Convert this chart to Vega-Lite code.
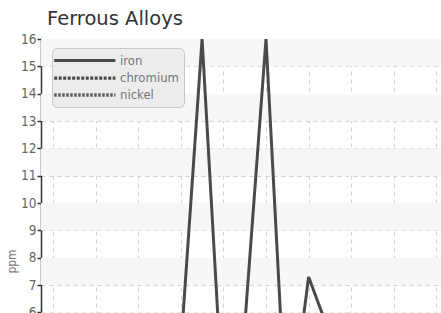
{
  "$schema": "https://vega.github.io/schema/vega-lite/v6.json",
  "autosize": {"type": "none"},
  "padding": {"left": 41, "top": 39, "right": 0, "bottom": 0},
  "width": 400,
  "height": 274,
  "background": "white",
  "title": {"text": "Ferrous Alloys", "anchor": "start", "frame": "group", "dx": 6, "offset": 3, "fontSize": 19.5, "font": "DejaVu Sans", "fontWeight": "normal", "color": "#333333"},
  "datasets": {
    "bands": [
      {"lo": 15, "hi": 16}, {"lo": 13, "hi": 14}, {"lo": 11, "hi": 12}, {"lo": 9, "hi": 10}, {"lo": 7, "hi": 8}, {"lo": 5, "hi": 6}
    ],
    "metals": [
      {"x": 0, "ppm": 3.1, "metal": "iron"}, {"x": 1, "ppm": 2.6, "metal": "iron"}, {"x": 2, "ppm": 3.4, "metal": "iron"}, {"x": 3, "ppm": 2.9, "metal": "iron"}, {"x": 4, "ppm": 3.8, "metal": "iron"}, {"x": 5, "ppm": 2.5, "metal": "iron"}, {"x": 6, "ppm": 4.7, "metal": "iron"}, {"x": 7, "ppm": 16, "metal": "iron"}, {"x": 8, "ppm": 2.3, "metal": "iron"}, {"x": 9, "ppm": 5.5, "metal": "iron"}, {"x": 10, "ppm": 16, "metal": "iron"}, {"x": 11, "ppm": 1.2, "metal": "iron"}, {"x": 12, "ppm": 7.3, "metal": "iron"}, {"x": 13, "ppm": 5.2, "metal": "iron"}, {"x": 14, "ppm": 3.5, "metal": "iron"}, {"x": 15, "ppm": 2.8, "metal": "iron"}, {"x": 16, "ppm": 3.3, "metal": "iron"}, {"x": 17, "ppm": 2.6, "metal": "iron"}, {"x": 18, "ppm": 3.0, "metal": "iron"},
      {"x": 0, "ppm": 1.8, "metal": "chromium"}, {"x": 1, "ppm": 2.1, "metal": "chromium"}, {"x": 2, "ppm": 1.6, "metal": "chromium"}, {"x": 3, "ppm": 2.4, "metal": "chromium"}, {"x": 4, "ppm": 1.9, "metal": "chromium"}, {"x": 5, "ppm": 2.2, "metal": "chromium"}, {"x": 6, "ppm": 1.7, "metal": "chromium"}, {"x": 7, "ppm": 2.6, "metal": "chromium"}, {"x": 8, "ppm": 1.5, "metal": "chromium"}, {"x": 9, "ppm": 2.0, "metal": "chromium"}, {"x": 10, "ppm": 2.8, "metal": "chromium"}, {"x": 11, "ppm": 1.4, "metal": "chromium"}, {"x": 12, "ppm": 2.3, "metal": "chromium"}, {"x": 13, "ppm": 1.9, "metal": "chromium"}, {"x": 14, "ppm": 2.1, "metal": "chromium"}, {"x": 15, "ppm": 1.6, "metal": "chromium"}, {"x": 16, "ppm": 2.0, "metal": "chromium"}, {"x": 17, "ppm": 1.8, "metal": "chromium"}, {"x": 18, "ppm": 2.2, "metal": "chromium"},
      {"x": 0, "ppm": 0.9, "metal": "nickel"}, {"x": 1, "ppm": 1.1, "metal": "nickel"}, {"x": 2, "ppm": 0.8, "metal": "nickel"}, {"x": 3, "ppm": 1.2, "metal": "nickel"}, {"x": 4, "ppm": 1.0, "metal": "nickel"}, {"x": 5, "ppm": 0.7, "metal": "nickel"}, {"x": 6, "ppm": 1.3, "metal": "nickel"}, {"x": 7, "ppm": 1.5, "metal": "nickel"}, {"x": 8, "ppm": 0.9, "metal": "nickel"}, {"x": 9, "ppm": 1.1, "metal": "nickel"}, {"x": 10, "ppm": 1.6, "metal": "nickel"}, {"x": 11, "ppm": 0.8, "metal": "nickel"}, {"x": 12, "ppm": 1.2, "metal": "nickel"}, {"x": 13, "ppm": 1.0, "metal": "nickel"}, {"x": 14, "ppm": 0.9, "metal": "nickel"}, {"x": 15, "ppm": 1.1, "metal": "nickel"}, {"x": 16, "ppm": 0.8, "metal": "nickel"}, {"x": 17, "ppm": 1.0, "metal": "nickel"}, {"x": 18, "ppm": 0.9, "metal": "nickel"}
    ]
  },
  "layer": [
    {
      "data": {"name": "bands"},
      "mark": {"type": "rect", "fill": "#f7f7f7", "clip": true},
      "encoding": {
        "y": {"field": "lo", "type": "quantitative", "scale": {"domain": [5.98, 16], "nice": false, "zero": false},
              "axis": {"title": "ppm", "values": [6, 7, 8, 9, 10, 11, 12, 13, 14, 15, 16], "labelOverlap": false, "labelBound": false, "labelFlush": false,
                       "titleX": -26, "titleY": 222, "titleAlign": "center", "titleBaseline": "alphabetic", "titleAngle": -90}},
        "y2": {"field": "hi"}
      }
    },
    {
      "data": {"name": "metals"},
      "mark": {"type": "line", "clip": true, "strokeJoin": "miter"},
      "encoding": {
        "x": {"field": "x", "type": "quantitative", "scale": {"domain": [-0.563, 18.216], "nice": false, "zero": false},
              "axis": {"values": [0, 2, 4, 6, 8, 10, 12, 14, 16, 18], "domain": false, "ticks": false, "labels": false, "title": null}},
        "y": {"field": "ppm", "type": "quantitative", "scale": {"domain": [5.98, 16], "nice": false, "zero": false},
              "axis": {"title": "ppm", "values": [6, 7, 8, 9, 10, 11, 12, 13, 14, 15, 16], "labelOverlap": false, "labelBound": false, "labelFlush": false,
                       "titleX": -26, "titleY": 222, "titleAlign": "center", "titleBaseline": "alphabetic", "titleAngle": -90}},
        "color": {"field": "metal", "type": "nominal", "scale": {"domain": ["iron", "chromium", "nickel"], "range": ["#4a4a4a", "#4a4a4a", "#5a5a5a"]}, "title": null},
        "strokeDash": {"field": "metal", "type": "nominal", "scale": {"domain": ["iron", "chromium", "nickel"], "range": [[1, 0], [3, 1.5], [2.5, 1.5]]}, "title": null},
        "strokeWidth": {"field": "metal", "type": "nominal", "scale": {"domain": ["iron", "chromium", "nickel"], "range": [3, 3.5, 2]}, "title": null}
      }
    }
  ],
  "resolve": {"scale": {"y": "shared"}},
  "config": {
    "view": {"stroke": null},
    "axis": {"gridColor": "#d2d2d2", "gridDash": [4, 4], "gridWidth": 1, "zindex": 1},
    "axisY": {"domainColor": "#333333", "domainWidth": 1.5, "tickColor": "#333333", "tickWidth": 1.5, "tickSize": 4, "labelFont": "DejaVu Sans Condensed, Liberation Sans", "labelFontSize": 13.5, "labelColor": "#666666", "labelPadding": 1, "titleFont": "DejaVu Sans Condensed, Liberation Sans", "titleFontSize": 12, "titleFontWeight": "normal", "titleColor": "#777777"},
    "legend": {"orient": "none", "legendX": 11, "legendY": 9, "symbolType": "M-1.8,0H8.4", "symbolSize": 144, "fillColor": "#ececec", "strokeColor": "#c6c6c6", "cornerRadius": 5, "padding": 5, "labelFont": "DejaVu Sans Condensed, Liberation Sans", "labelFontSize": 13, "labelColor": "#777777", "labelOffset": 47, "rowPadding": 2, "symbolStrokeWidth": 3, "symbolFillColor": "transparent"}
  }
}
